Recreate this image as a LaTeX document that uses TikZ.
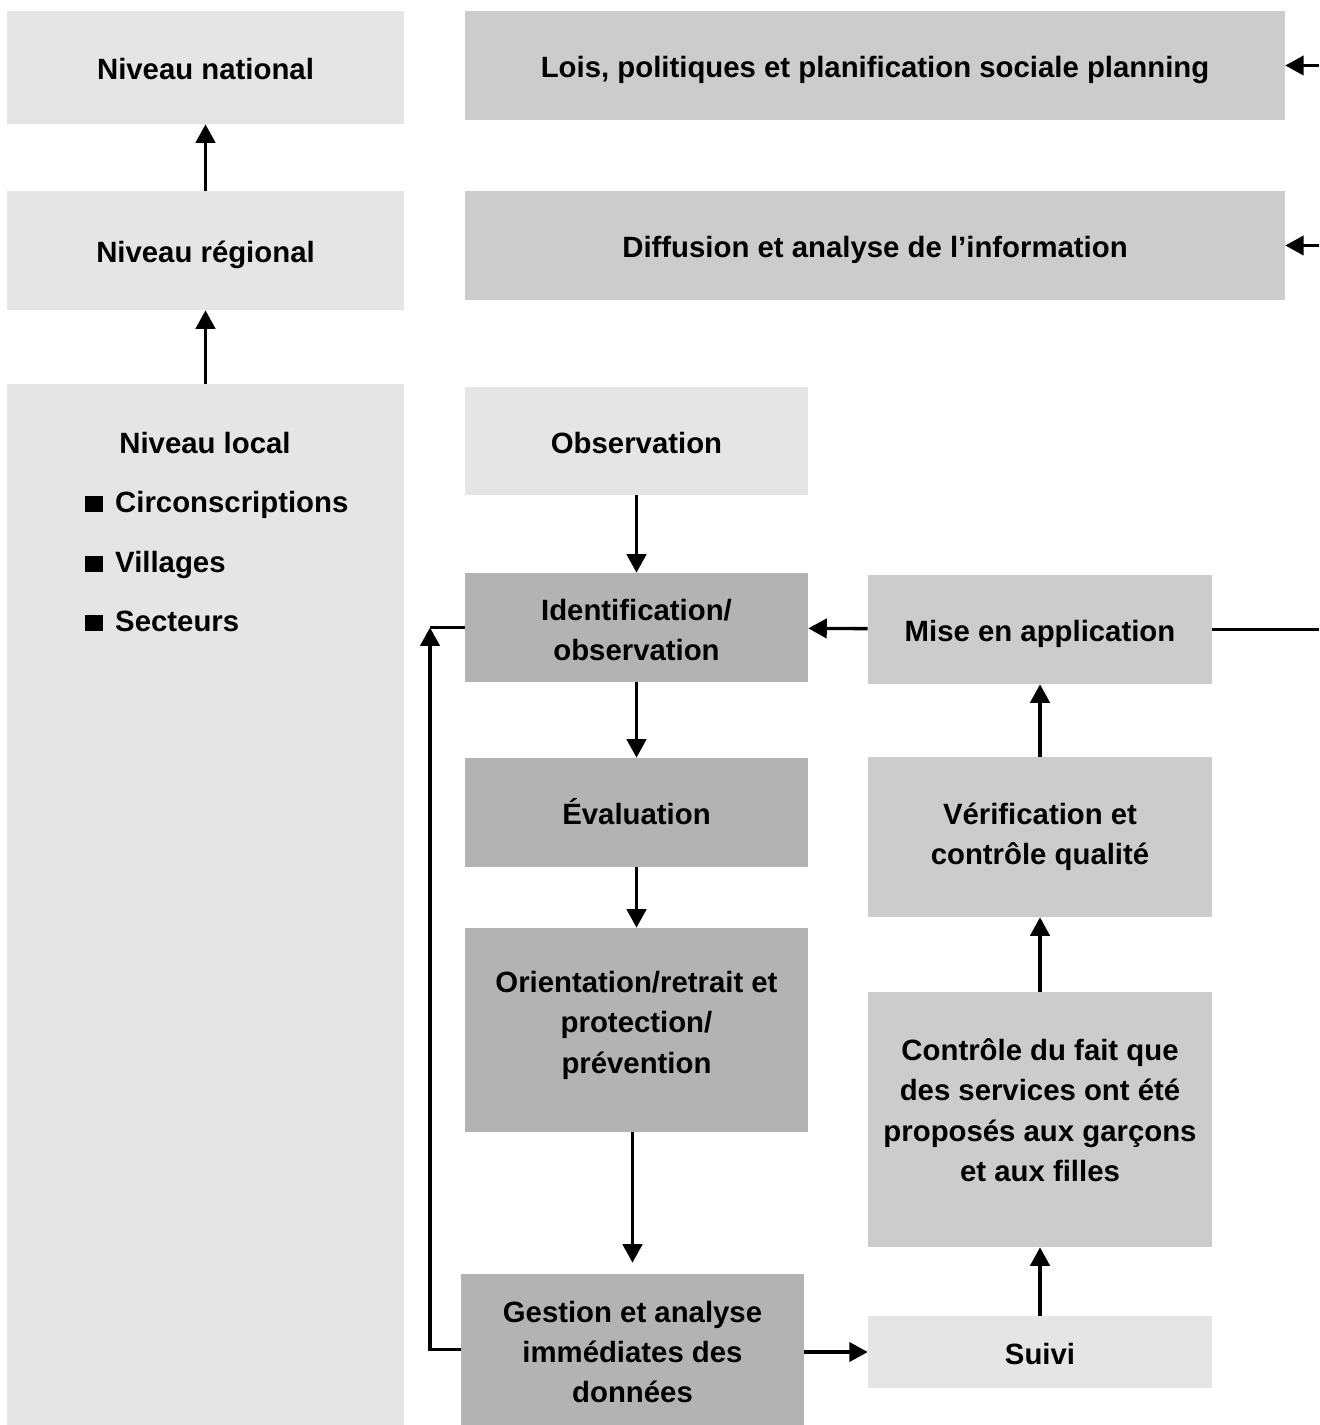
\documentclass[tikz,border=0pt]{standalone}
\usepackage{fontspec}
\setmainfont{Liberation Sans}
\usetikzlibrary{arrows.meta}

\definecolor{grisA}{HTML}{E5E5E5}
\definecolor{grisB}{HTML}{CCCCCC}
\definecolor{grisC}{HTML}{B3B3B3}

\begin{document}
\begin{tikzpicture}[x=0.02cm,y=-0.02cm,
  boite/.style={inner sep=0pt,align=center,font=\bfseries\fontsize{16.7}{23}\selectfont},
  ligne/.style={text height=14pt,text depth=0pt},
  clair/.style={boite,fill=grisA},
  moyen/.style={boite,fill=grisB},
  fonce/.style={boite,fill=grisC},
  fleche/.style={line width=1.9pt,-{Triangle[length=10.5pt,width=11pt]}},
  trait/.style={line width=1.9pt}]
\useasboundingbox (0,0) rectangle (1319,1425);

% colonne des niveaux
\node[clair,ligne,minimum width=7.94cm,minimum height=2.26cm] (nat) at (205.5,67.5) {Niveau national};
\node[clair,ligne,minimum width=7.94cm,minimum height=2.38cm] (reg) at (205.5,250.5) {Niveau r\'egional};
\node[clair,minimum width=7.94cm,minimum height=20.82cm] (loc) at (205.5,904.5) {};
\node[boite,ligne] (loct) at (205,441) {Niveau local};
\node[boite,ligne,anchor=west] (circ) at (85,500) {\rule{10pt}{9pt}\hspace{7pt}Circonscriptions};
\node[boite,ligne,anchor=west] (vill) at (85,560) {\rule{10pt}{9pt}\hspace{7pt}Villages};
\node[boite,ligne,anchor=west] (sect) at (85,619) {\rule{10pt}{9pt}\hspace{7pt}Secteurs};

\draw[fleche] (reg) -- (nat);
\draw[fleche] (loc) -- (reg);

% bandes du haut
\node[moyen,ligne,minimum width=16.4cm,minimum height=2.18cm] (lois) at (875,65.5) {Lois, politiques et planification sociale planning};
\node[moyen,ligne,minimum width=16.4cm,minimum height=2.18cm] (diff) at (875,245.5) {Diffusion et analyse de l'information};
\coordinate (loisin) at (1319,65.5);
\coordinate (diffin) at (1319,245.5);
\draw[fleche] (loisin) -- (lois);
\draw[fleche] (diffin) -- (diff);

% colonne du milieu
\node[clair,ligne,minimum width=6.86cm,minimum height=2.16cm] (obs) at (636.5,441) {Observation};
\node[fonce,minimum width=6.86cm,minimum height=2.18cm] (ident) at (636.5,627.5) {};
\node[boite] (identt) at (636.5,630) {Identification/\\observation};
\node[fonce,ligne,minimum width=6.86cm,minimum height=2.18cm] (eval) at (636.5,812.5) {\'Evaluation};
\node[fonce,minimum width=6.86cm,minimum height=4.08cm] (orient) at (636.5,1030) {};
\node[boite] (orientt) at (636.5,1025) {Orientation/retrait et\\protection/\\pr\'evention};
\node[fonce,minimum width=6.86cm,minimum height=3.02cm] (gest) at (632.5,1349.5) {};
\node[boite] (gestt) at (632.5,1352) {Gestion et analyse\\imm\'ediates des\\donn\'ees};

% colonne de droite
\node[moyen,ligne,minimum width=6.88cm,minimum height=2.18cm] (mise) at (1040,629.5) {Mise en application};
\node[moyen,minimum width=6.88cm,minimum height=3.2cm] (verif) at (1040,837) {V\'erification et\\contr\^ole qualit\'e};
\node[moyen,minimum width=6.88cm,minimum height=5.1cm] (ctrl) at (1040,1119.5) {};
\node[boite] (ctrlt) at (1040,1110) {Contr\^ole du fait que\\des services ont \'et\'e\\propos\'es aux gar\c{c}ons\\et aux filles};
\node[clair,ligne,minimum width=6.88cm,minimum height=1.44cm] (suivi) at (1040,1352) {Suivi};

\draw[fleche] (obs) -- (ident);
\draw[fleche] (ident) -- (eval);
\draw[fleche] (eval) -- (orient);
\draw[fleche,shorten >=0.22cm] (orient.south -| gest.north) -- (gest);
\draw[fleche] (gest.east |- suivi.west) -- (suivi);
\draw[fleche] (suivi) -- (ctrl);
\draw[fleche] (ctrl) -- (verif);
\draw[fleche] (verif) -- (mise);
\draw[fleche] (mise) -- (ident);

% sortie vers la droite
\coordinate (miseout) at (1319,629.5);
\draw[trait] (mise) -- (miseout);

% retour
\coordinate (retour) at (430,627.5);
\draw[fleche] (gest.west) -| (retour);
\draw[trait] (retour) -- (ident.west);

\end{tikzpicture}
\end{document}
